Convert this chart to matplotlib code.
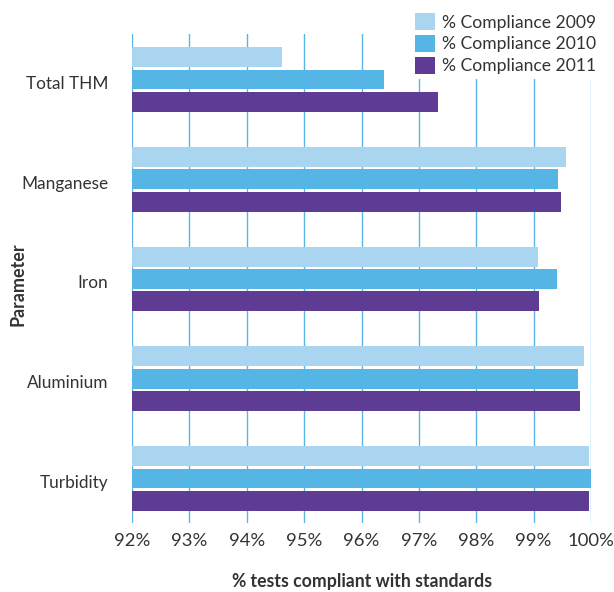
import numpy as np
import matplotlib.pyplot as plt
import matplotlib.transforms as mtransforms
from matplotlib.ticker import FuncFormatter

# data
parameters = ["Total THM", "Manganese", "Iron", "Aluminium", "Turbidity"]
compliance_2009 = [94.61, 99.56, 99.07, 99.88, 99.96]
compliance_2010 = [96.40, 99.42, 99.40, 99.78, 100.0]
compliance_2011 = [97.34, 99.47, 99.10, 99.80, 99.96]
series_labels = ["% Compliance 2009", "% Compliance 2010", "% Compliance 2011"]
colors = ["#a9d5f0", "#55b6e6", "#5f3c94"]
x_ticks = [92, 93, 94, 95, 96, 97, 98, 99, 100]

plt.rcParams["font.family"] = ["Lato", "DejaVu Sans"]
text_color = "#333333"
grid_color = "#5ab4e6"

fig = plt.figure(figsize=(6.14, 5.92), dpi=100)
ax = fig.add_axes([132 / 614, 1 - 523 / 592, (591 - 132) / 614, (523 - 34) / 592])

y = np.arange(len(parameters))
bar_h = 0.2
offset = 0.225
all_series = [compliance_2009, compliance_2010, compliance_2011]

# gridlines first so bars sit above them
for t in x_ticks:
    ax.axvline(t, color=grid_color, lw=1.0, zorder=1)

for i, (vals, lab, col) in enumerate(zip(all_series, series_labels, colors)):
    ax.barh(y + (i - 1) * offset, np.array(vals) - 92, left=92, height=bar_h,
            color=col, label=lab, zorder=2)

ax.set_xlim(92, 100)
ax.set_ylim(4.446, -0.456)
ax.set_xticks(x_ticks)
ax.xaxis.set_major_formatter(FuncFormatter(lambda v, p: f"{v:.0f}%"))
ax.set_yticks(y)
ax.set_yticklabels(parameters)
ax.tick_params(axis="x", length=0, pad=7, labelsize=13.3, colors=text_color)
ax.tick_params(axis="y", length=0, pad=17, labelsize=12.4, colors=text_color)
# nudge category labels a few px down, like the reference
shift = mtransforms.ScaledTranslation(0, -3 / 100, fig.dpi_scale_trans)
for lbl in ax.get_yticklabels():
    lbl.set_transform(lbl.get_transform() + shift)
for s in ax.spines.values():
    s.set_visible(False)

fig.text(362 / 614, 1 - 582 / 592, "% tests compliant with standards", ha="center",
         va="center", fontsize=12.7, fontweight="bold", color=text_color)
fig.text(18 / 614, 1 - 284 / 592, "Parameter", ha="center", va="center", rotation=90,
         fontsize=12.9, fontweight="bold", color=text_color)

leg = fig.legend(loc="upper left", bbox_to_anchor=(410 / 614, 1 - 8 / 592),
                 frameon=True, facecolor="white", edgecolor="none", framealpha=1,
                 fontsize=12.6, handlelength=1.1, handleheight=1.1, handletextpad=0.4,
                 labelspacing=0.25, borderpad=0.3, borderaxespad=0, fancybox=False)
for t in leg.get_texts():
    t.set_color(text_color)
leg.set_zorder(5)

fig.savefig("out.png", dpi=100)
